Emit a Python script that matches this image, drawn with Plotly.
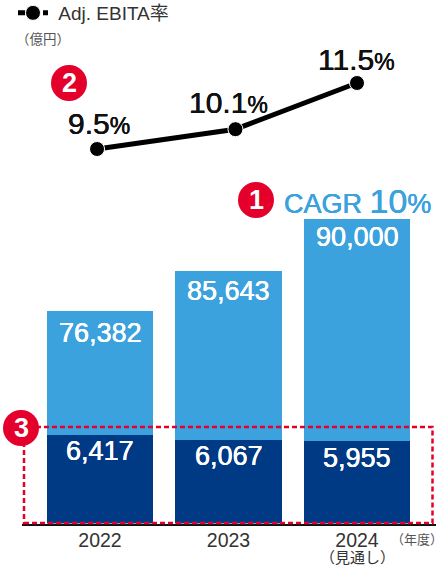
import plotly.graph_objects as go

years = [2022, 2023, 2024]
tick_labels = ["2022", "2023", "2024"]
dark_values = [6417, 6067, 5955]
light_labels = [76382, 85643, 90000]
# The source bars are not to scale: the light segments' drawn lengths in axis units
light_drawn = [9000, 12230, 16150]
ebita_rate = [9.5, 10.1, 11.5]
rate_x = [2021.977, 2023.054, 2024.0]

W, H = 445, 566
FONT = "Liberation Sans, Arial, Noto Sans CJK JP, sans-serif"
LIGHT, DARK, RED = "#3ba2dd", "#003a84", "#e4002b"
TXT = "#333333"


def px(x):
    return x / W


def py(y):
    return 1 - y / H


BASE = 523.5
X_SCALE = 128.5   # px per year
Y_SCALE = 88.5 / 6417
R_SCALE = 33.0    # px per percentage point

fig = go.Figure()
fig.add_bar(x=years, y=dark_values, marker_color=DARK, marker_line_width=0, width=0.825, showlegend=False, hoverinfo="skip")
fig.add_bar(x=years, y=light_drawn, marker_color=LIGHT, marker_line_width=0, width=0.825, showlegend=False, hoverinfo="skip")
fig.add_scatter(x=rate_x, y=ebita_rate, yaxis="y2", mode="lines+markers", showlegend=False,
                line=dict(color="black", width=5),
                marker=dict(color="black", size=15, line=dict(color="white", width=1)))
# legend key only
fig.add_scatter(x=[None], y=[None], yaxis="y2", mode="lines+markers", name="\u00a0Adj. EBITA率",
                line=dict(color="black", width=5, dash="7px,18px,7px"),
                marker=dict(color="black", size=15, line=dict(color="white", width=1)))

ann = []


def text(x, y, s, size, color=TXT, xanchor="center", family=FONT, shadow="none"):
    ann.append(dict(xref="paper", yref="paper", x=px(x), y=py(y), text=s, showarrow=False,
                    font=dict(size=size, color=color, family=family, shadow=shadow), xanchor=xanchor, yanchor="middle"))


WHITE_HEAVY = "0.15px 0 0 #ffffff, -0.15px 0 0 #ffffff"
BLACK_HEAVY = "0.2px 0 0 #111111, -0.2px 0 0 #111111"
BLUE_HEAVY = "0.15px 0 0 #3ba2dd, -0.15px 0 0 #3ba2dd"

# values on the bars
for i, yr in enumerate(years):
    ann.append(dict(x=yr, y=dark_values[i], yref="y", text=f"{dark_values[i]:,}", showarrow=False,
                    yanchor="middle", yshift=-(16, 16, 17)[i],
                    font=dict(size=27, color="white", family=FONT, shadow=WHITE_HEAVY)))
    ann.append(dict(x=yr, y=dark_values[i] + light_drawn[i], yref="y", text=f"{light_labels[i]:,}", showarrow=False,
                    yanchor="middle", yshift=-(22, 20, 18)[i],
                    font=dict(size=27, color="white", family=FONT, shadow=WHITE_HEAVY)))
    ann.append(dict(x=rate_x[i], y=ebita_rate[i], yref="y2",
                    text=f"{ebita_rate[i]}<span style='font-size:23px'>%</span>", showarrow=False,
                    yanchor="middle", yshift=(26, 27, 24)[i], xshift=(2, -7, -1)[i],
                    font=dict(size=30, color="#111111", family=FONT, shadow=BLACK_HEAVY)))

text(14, 39, "（億円）", 13.5, "#555555", "left")
text(417, 539, "（年度）", 13, "#555555")
text(357, 557, "（見通し）", 15, TXT)
text(282, 201, "CAGR <span style='font-size:34px'>10</span><span style='font-size:27px'>%</span>", 27, LIGHT, "left",
     shadow=BLUE_HEAVY)

shapes = [
    dict(type="rect", xref="paper", yref="paper", x0=px(24), x1=px(432.5), y0=py(523), y1=py(427),
         line=dict(color=RED, width=2.5, dash="5px,3px"), layer="above"),
]
for n, cx, cy in [("2", 69, 83), ("1", 256, 200), ("3", 21, 428)]:
    shapes.append(dict(type="circle", xref="paper", yref="paper", x0=px(cx - 18), x1=px(cx + 18),
                       y0=py(cy + 18), y1=py(cy - 18), fillcolor=RED, line=dict(width=0), layer="above"))
    text(cx, cy, f"<b>{n}</b>", 27, "white")

fig.update_layout(
    width=W, height=H, margin=dict(l=0, r=0, t=0, b=0, pad=0, autoexpand=False), autosize=False,
    paper_bgcolor="white", plot_bgcolor="white", barmode="stack",
    font=dict(family=FONT, color=TXT),
    annotations=ann, shapes=shapes,
    xaxis=dict(domain=[px(22), px(436)], automargin=False,
               range=[2022 + (22 - 100) / X_SCALE, 2022 + (436 - 100) / X_SCALE],
               tickmode="array", tickvals=years, ticktext=tick_labels, ticks="", showgrid=False, zeroline=False,
               ticklabelstandoff=-2,
               showline=True, linecolor="#111111", linewidth=1.5, tickfont=dict(size=19.5, color=TXT, family=FONT)),
    yaxis=dict(domain=[py(BASE), 1], range=[0, BASE / Y_SCALE], visible=False, showgrid=False, automargin=False),
    yaxis2=dict(domain=[py(BASE), 1], overlaying="y", range=[9.5 - (BASE - 149) / R_SCALE, 9.5 + 149 / R_SCALE],
                visible=False, showgrid=False, automargin=False),
    legend=dict(x=px(13), y=py(-6), xanchor="left", yanchor="top", bgcolor="rgba(0,0,0,0)",
                font=dict(size=19, color=TXT, family=FONT), itemwidth=30),
)

fig.write_html("out.html", config=dict(displayModeBar=False), post_script="document.body.style.margin='0';")
